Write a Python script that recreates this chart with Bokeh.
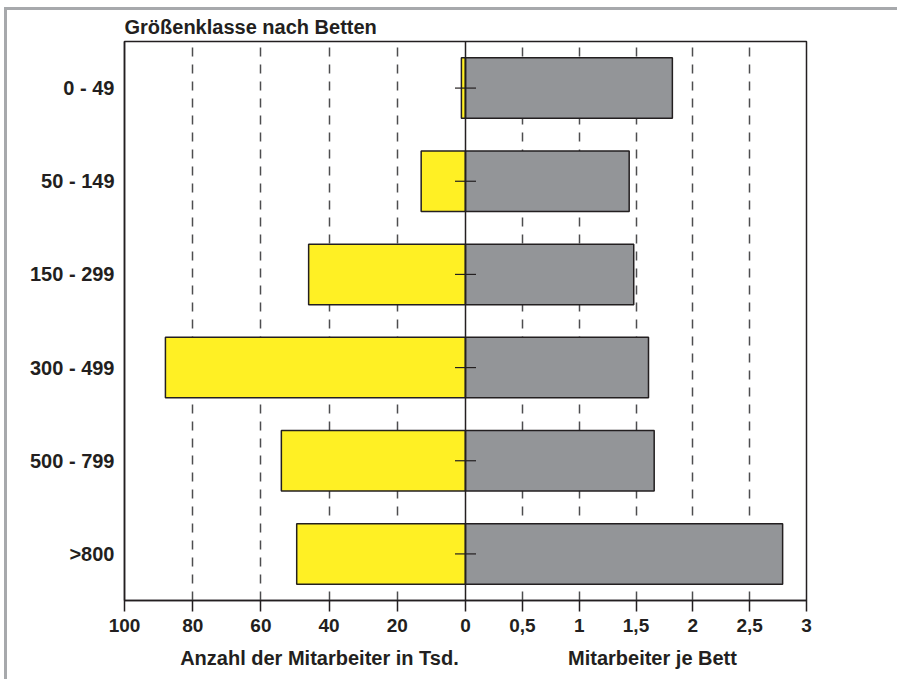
from bokeh.plotting import figure
from bokeh.models import FactorRange, Range1d, FixedTicker, Span, LinearAxis
from bokeh.embed import file_html
from bokeh.resources import INLINE

# ---- data ----
categories = ["0 - 49", "50 - 149", "150 - 299", "300 - 499", "500 - 799", ">800"]
staff_tsd = [1.2, 13, 46, 88, 54, 49.5]               # Anzahl der Mitarbeiter in Tsd.
staff_per_bed = [1.82, 1.44, 1.48, 1.61, 1.66, 2.79]  # Mitarbeiter je Bett
left_ticks = [100, 80, 60, 40, 20, 0]
right_ticks = [0.5, 1, 1.5, 2, 2.5, 3]
right_tick_labels = ["0,5", "1", "1,5", "2", "2,5", "3"]
axis_titles = ["Anzahl der Mitarbeiter in Tsd.", "Mitarbeiter je Bett"]

# common scale: left 100 -> -600, right 3 -> 600
LS = 6.0
RS = 200.0

TXT = "#231f20"
FONT = "Liberation Sans"

p = figure(
    width=893, height=672,
    y_range=FactorRange(factors=list(reversed(categories)), range_padding=0),
    x_range=Range1d(-100 * LS, 3 * RS),
    output_backend="svg", toolbar_location=None,
    min_border_left=117, min_border_right=94, min_border_top=31, min_border_bottom=82,
    title="Größenklasse nach Betten",
)
p.styles = {"margin-left": "4px", "margin-top": "7px",
            "border-top": "3px solid #a7a9ac", "border-left": "3px solid #a7a9ac"}
p.outline_line_color = TXT
p.outline_line_width = 1.5

p.title.text_font = FONT
p.title.text_font_size = "20px"
p.title.text_font_style = "bold"
p.title.text_color = TXT
p.title.align = "left"
p.title.offset = 0
p.title.standoff = 7

# grid
p.ygrid.grid_line_color = None
grid_ticks = [-t * LS for t in left_ticks if t not in (0, 100)] + [t * RS for t in right_ticks]
p.xgrid.ticker = FixedTicker(ticks=grid_ticks)
p.xgrid.grid_line_color = "#4d4d4f"
p.xgrid.grid_line_width = 1.5
p.xgrid.grid_line_dash = "9 8"

# bars
p.hbar(y=categories, left=[-v * LS for v in staff_tsd], right=[0] * len(categories), height=0.65,
       fill_color="#fff024", line_color=TXT, line_width=1.5)
p.hbar(y=categories, left=[0] * len(categories), right=[v * RS for v in staff_per_bed], height=0.65,
       fill_color="#939598", line_color=TXT, line_width=1.5)

# center line
p.add_layout(Span(location=0, dimension="height", line_color=TXT, line_width=1.5, level="overlay"))
# center markers
p.scatter(x=[0] * len(categories), y=categories, marker="dash", size=21,
          line_color=TXT, line_width=1.2, level="overlay")

# x axis
xt = [-t * LS for t in left_ticks] + [t * RS for t in right_ticks]
p.xaxis.ticker = FixedTicker(ticks=xt)
overrides = {int(-t * LS): str(t) for t in left_ticks}
for t, lab in zip(right_ticks, right_tick_labels):
    overrides[int(t * RS)] = lab
p.xaxis.major_label_overrides = overrides
p.xaxis.axis_line_color = TXT
p.xaxis.axis_line_width = 1.5
p.xaxis.major_tick_line_color = TXT
p.xaxis.major_tick_line_width = 1.5
p.xaxis.major_tick_out = 11
p.xaxis.major_tick_in = 0
p.xaxis.minor_tick_line_color = None
p.xaxis.major_label_standoff = 7
p.xaxis.major_label_text_font = FONT
p.xaxis.major_label_text_font_size = "19px"
p.xaxis.major_label_text_font_style = "bold"
p.xaxis.major_label_text_color = TXT

# second "axis" carrying the two axis titles under their halves
title_pos = [-257, 329]
tax = LinearAxis(ticker=FixedTicker(ticks=title_pos),
                 major_label_overrides={int(x): t for x, t in zip(title_pos, axis_titles)},
                 axis_line_color=None, major_tick_line_color=None, minor_tick_line_color=None,
                 major_tick_out=0, major_tick_in=0, major_label_standoff=12,
                 major_label_text_font=FONT, major_label_text_font_size="20px",
                 major_label_text_font_style="bold", major_label_text_color=TXT)
p.add_layout(tax, "below")

# y axis
p.yaxis.axis_line_color = TXT
p.yaxis.axis_line_width = 1.5
p.yaxis.major_tick_line_color = None
p.yaxis.minor_tick_line_color = None
p.yaxis.major_label_standoff = 4
p.yaxis.major_label_text_font = FONT
p.yaxis.major_label_text_font_size = "20px"
p.yaxis.major_label_text_font_style = "bold"
p.yaxis.major_label_text_color = TXT

open("out.html", "w").write(file_html(p, INLINE))
